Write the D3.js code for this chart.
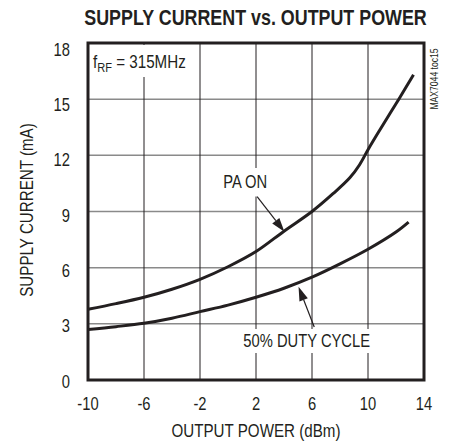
<!DOCTYPE html>
<html><head><meta charset="utf-8">
<script src="https://cdn.jsdelivr.net/npm/d3@7"></script>
<style>
html,body{margin:0;padding:0;background:#fff;}
svg text{font-family:"Liberation Sans",Arial,sans-serif;fill:#231f20;}
</style></head>
<body><svg id="c" width="451" height="443"></svg>
<script>
// ---- data ----
const paOnPower = [-10,-8,-6,-4,-2,0,2,4,6,7.5,8.7,9.4,10,10.8,12.2,13.25];
const paOnCurrent = [3.78,4.08,4.42,4.85,5.38,6.05,6.86,7.95,9.0,9.95,10.8,11.5,12.3,13.3,15.0,16.3];
const dutyPower = [-10,-8,-6,-4,-2,0,2,4,6,8,10,12,12.9];
const dutyCurrent = [2.7,2.85,3.03,3.3,3.65,4.0,4.42,4.9,5.49,6.2,6.98,7.9,8.43];
const xTicks = [-10,-6,-2,2,6,10,14];
const yTicks = [0,3,6,9,12,15,18];
const title = "SUPPLY CURRENT vs. OUTPUT POWER";
const xTitle = "OUTPUT POWER (dBm)";
const yTitle = "SUPPLY CURRENT (mA)";
const sideNote = "MAX7044 toc15";

const svg = d3.select("#c");
const L=88,R=424,T=43,B=380;
const x = d3.scaleLinear().domain([-10,14]).range([L,R]);
const y = d3.scaleLinear().domain([0,18]).range([B,T]);
const yLab = d3.scaleLinear().domain([0,18]).range([381,49]);
const ink = "#231f20";
const SQ = 0.82; // narrow-font condensation

// condensed text helper
function ntext(px,py,rot,anchor,size,str,weight){
  const gg = svg.append("g").attr("transform",`translate(${px},${py}) rotate(${rot}) scale(${SQ},1)`);
  return gg.append("text").attr("x",0).attr("y",0).attr("text-anchor",anchor)
    .attr("font-size",size).attr("font-weight",weight||"normal").text(str);
}

// gridlines
const g = svg.append("g");
g.selectAll("line.h").data(yTicks.slice(1,-1)).join("line")
  .attr("x1",L).attr("x2",R).attr("y1",d=>y(d)).attr("y2",d=>y(d))
  .attr("stroke","#8a8a8a").attr("stroke-width",1.5);
g.selectAll("line.v").data(xTicks.slice(1,-1)).join("line")
  .attr("y1",T).attr("y2",B).attr("x1",d=>x(d)).attr("x2",d=>x(d))
  .attr("stroke",ink).attr("stroke-width",1);

// label knockouts
svg.append("rect").attr("x",90).attr("y",T+2).attr("width",102).attr("height",77-T-2).attr("fill","#fff");
svg.append("rect").attr("x",219).attr("y",168).attr("width",56).attr("height",28.5).attr("fill","#fff");
svg.append("rect").attr("x",238).attr("y",329).attr("width",140).attr("height",24).attr("fill","#fff");

// frame
svg.append("rect").attr("x",L).attr("y",T).attr("width",R-L).attr("height",B-T)
  .attr("fill","none").attr("stroke",ink).attr("stroke-width",3);

// curves
const line = d3.line().x(d=>x(d[0])).y(d=>y(d[1])).curve(d3.curveCatmullRom.alpha(0.5));
svg.append("path").datum(paOnPower.map((p,i)=>[p,paOnCurrent[i]]))
  .attr("d",line).attr("fill","none").attr("stroke",ink).attr("stroke-width",3);
svg.append("path").datum(dutyPower.map((p,i)=>[p,dutyCurrent[i]]))
  .attr("d",line).attr("fill","none").attr("stroke",ink).attr("stroke-width",3);

// arrows
function arrow(x0,y0,x1,y1){
  const X0=x(x0),Y0=y(y0),X1=x(x1),Y1=y(y1);
  const dx=X1-X0,dy=Y1-Y0,len=Math.hypot(dx,dy),ux=dx/len,uy=dy/len;
  const hl=14,hw=4.5;
  const bx=X1-ux*hl,by=Y1-uy*hl;
  svg.append("line").attr("x1",X0).attr("y1",Y0).attr("x2",bx).attr("y2",by)
    .attr("stroke",ink).attr("stroke-width",1.2);
  svg.append("path").attr("d",`M${X1},${Y1}L${bx-uy*hw},${by+ux*hw}L${bx+uy*hw},${by-ux*hw}Z`).attr("fill",ink);
}
arrow(2.08,9.79,4.03,7.92);
arrow(6.16,2.83,5.04,4.98);

// tick labels
yTicks.forEach(d=>ntext(70,yLab(d)+6.5,0,"end",18,d));
xTicks.forEach(d=>ntext(x(d),410,0,"middle",18,d));

// titles
ntext(256,437,0,"middle",18.5,xTitle);
ntext(33,210,-90,"middle",18.5,yTitle);
ntext(255.5,25,0,"middle",21.8,title,"bold");
ntext(438,79,-90,"middle",10.5,sideNote);

// annotations
const f = ntext(x(-9.64),y(16.64),0,"start",18.5,null);
f.append("tspan").text("f");
f.append("tspan").attr("font-size",13.5).attr("dy",4).text("RF");
f.append("tspan").attr("dy",-4).text(" = 315MHz");
ntext(x(1.23),y(10.23),0,"middle",18,"PA ON");
ntext(x(5.62),y(1.78),0,"middle",18,"50% DUTY CYCLE");
</script></body></html>
